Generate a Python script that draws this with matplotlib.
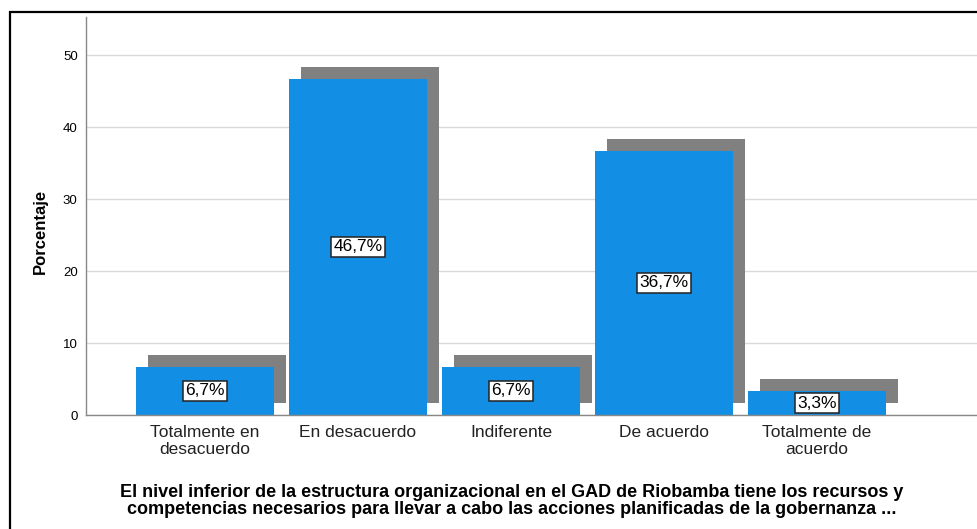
import matplotlib
matplotlib.use('Agg')
import matplotlib.pyplot as plt
import matplotlib.transforms as mtransforms
from matplotlib.patches import Rectangle

plt.rcParams['font.family'] = ['Liberation Sans', 'DejaVu Sans']

categorias = ['Totalmente en\ndesacuerdo', 'En desacuerdo', 'Indiferente',
              'De acuerdo', 'Totalmente de\nacuerdo']
porcentajes = [6.7, 46.7, 6.7, 36.7, 3.3]
etiquetas = ['6,7%', '46,7%', '6,7%', '36,7%', '3,3%']
y_ticks = [0, 10, 20, 30, 40, 50]

titulo_x = ('El nivel inferior de la estructura organizacional en el GAD de Riobamba tiene los recursos y\n'
            'competencias necesarios para llevar a cabo las acciones planificadas de la gobernanza ...')

fig = plt.figure(figsize=(9.77, 5.29), dpi=100)
ax = fig.add_axes([86 / 977, 1 - 415 / 529, 891 / 977, 398 / 529])

x = list(range(len(categorias)))

# sombra gris desplazada 12 px a la derecha y hacia arriba
sombra = ax.transData + mtransforms.ScaledTranslation(0.12, 0.12, fig.dpi_scale_trans)
ax.bar(x, porcentajes, width=0.9, color='#808080', transform=sombra, zorder=2)
ax.bar(x, porcentajes, width=0.9, color='#128FE4', zorder=3)

for xi, v, et in zip(x, porcentajes, etiquetas):
    ax.text(xi, v / 2, et, ha='center', va='center', fontsize=12.5, zorder=5,
            bbox=dict(boxstyle='square,pad=0.15', facecolor='white', edgecolor='#222222', linewidth=1.1))

ax.set_xlim(-0.778, 5.046)
ax.set_ylim(0, 55.3)
ax.set_yticks(y_ticks)
ax.set_xticks(x)
ax.set_xticklabels(categorias, fontsize=12.5, color='#222222', linespacing=1.2)
ax.tick_params(axis='y', length=0, labelsize=9.5, pad=6)
ax.tick_params(axis='x', length=0, pad=7)
ax.yaxis.grid(True, color='#d9d9d9', linewidth=1, zorder=0)
ax.set_axisbelow(True)

for s in ['top', 'right']:
    ax.spines[s].set_visible(False)
for s in ['left', 'bottom']:
    ax.spines[s].set_color('#888888')
    ax.spines[s].set_linewidth(1)
    ax.spines[s].set_zorder(4)

fig.text(40 / 977, 1 - 231 / 529, 'Porcentaje', rotation=90, ha='center', va='center',
         fontsize=12, fontweight='bold')
fig.text(512 / 977, 1 - 501 / 529, titulo_x, ha='center', va='center',
         fontsize=13, fontweight='bold', linespacing=1.05)

# marco exterior
fig.add_artist(Rectangle((10 / 977, -0.1), 1.2, 1 - 12 / 529 + 0.1, transform=fig.transFigure,
                         fill=False, edgecolor='black', linewidth=1.6, clip_on=False))

fig.savefig('out.png', dpi=100)
